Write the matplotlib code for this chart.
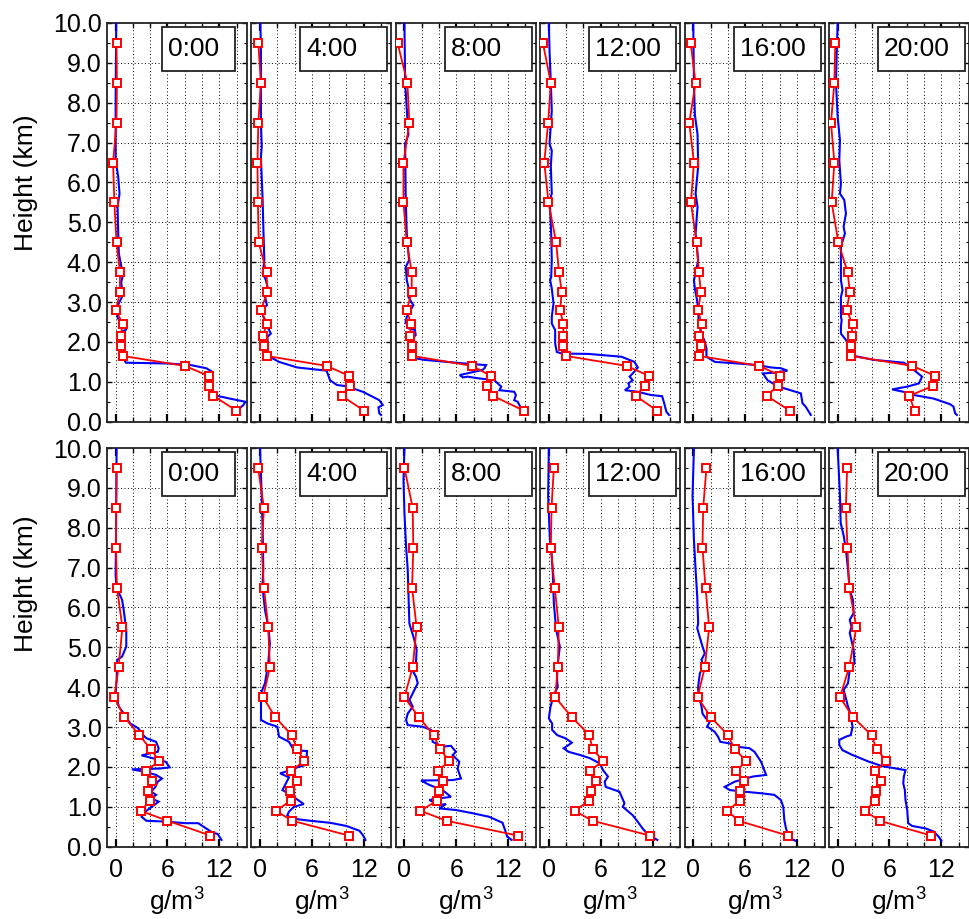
import matplotlib
matplotlib.use("Agg")
import matplotlib.pyplot as plt
from matplotlib.patches import Rectangle
from matplotlib.ticker import MultipleLocator, FormatStrFormatter

plt.rcParams['font.family'] = ['Liberation Sans', 'DejaVu Sans']
plt.rcParams['mathtext.default'] = 'regular'

# ---------------- data ----------------
times = ["0:00", "4:00", "8:00", "12:00", "16:00", "20:00"]
red_heights = [9.5, 8.5, 7.5, 6.5, 5.5, 4.5, 3.75, 3.25, 2.8, 2.45, 2.15, 1.9, 1.65, 1.4, 1.15, 0.9, 0.65, 0.28]

top_red = [
    [0.1, 0.15, 0.1, -0.3, -0.15, 0.1, 0.5, 0.5, 0.05, 0.8, 0.6, 0.6, 0.8, 8.0, 10.75, 10.85, 11.3, 13.95],
    [-0.2, 0.1, -0.2, -0.3, -0.25, -0.15, 0.75, 0.85, 0.1, 0.75, 0.35, 0.5, 0.75, 7.7, 10.3, 10.4, 9.45, 12.0],
    [-0.8, 0.34, 0.57, -0.11, -0.11, 0.27, 0.84, 0.84, 0.27, 0.76, 0.65, 0.84, 0.92, 7.84, 10.0, 9.6, 10.2, 13.8],
    [-0.69, 0.23, -0.08, -0.53, -0.04, 0.84, 1.18, 1.49, 1.3, 1.68, 1.68, 1.68, 1.95, 9.0, 11.56, 11.07, 10.04, 12.5],
    [-0.3, 0.27, -0.46, 0.08, -0.27, 0.38, 0.65, 0.88, 0.57, 0.96, 0.69, 0.84, 0.65, 7.66, 10.08, 9.77, 8.5, 11.15],
    [-0.27, -0.38, -0.77, -0.38, -0.69, 0.08, 1.15, 1.42, 1.03, 1.72, 1.61, 1.53, 1.53, 8.66, 11.26, 11.07, 8.3, 8.9],
]
bottom_red = [
    [0.11, 0.04, 0.04, 0.15, 0.78, 0.34, -0.15, 1.0, 2.73, 4.04, 5.06, 3.48, 4.23, 3.78, 4.0, 2.88, 6.0, 10.97],
    [-0.23, 0.45, 0.19, 0.45, 0.95, 1.14, 0.36, 1.75, 3.65, 4.3, 5.13, 3.54, 4.3, 3.46, 3.54, 1.83, 3.73, 10.27],
    [0.0, 0.95, 1.03, 0.88, 1.41, 0.95, 0.0, 1.65, 3.38, 4.1, 5.2, 3.85, 4.5, 3.96, 3.73, 1.85, 4.88, 13.1],
    [0.58, 0.31, 0.23, 0.69, 1.15, 1.04, 0.73, 2.66, 4.68, 5.06, 6.27, 4.75, 5.44, 4.87, 4.64, 2.97, 5.06, 11.67],
    [1.53, 1.15, 1.07, 1.42, 1.84, 1.34, 0.5, 2.03, 4.02, 4.79, 6.13, 4.98, 5.82, 5.36, 5.36, 3.95, 5.25, 10.92],
    [1.1, 0.95, 1.14, 1.33, 2.17, 1.33, 0.27, 1.77, 3.92, 4.5, 5.65, 4.38, 5.07, 4.46, 4.38, 3.12, 4.88, 10.8],
]

# blue profiles: (height km, value g/m3)
top_blue_0000 = [(10, 0.07), (8.06, 0.0), (6.56, 0.0), (6.14, 0.3), (5.72, 0.45), (5.39, 0.22), (4.72, 0.3),
                 (4.22, 0.37), (3.88, 0.67), (3.72, 0.9), (3.5, 0.64), (3.3, 0.75), (3.17, 0.82), (2.92, 0.26),
                 (2.8, 0.07), (2.59, 0.26), (2.42, 1.0), (2.31, 1.2), (2.26, 0.75), (2.09, 0.52), (1.88, 0.75),
                 (1.67, 0.82), (1.55, 1.0), (1.48, 1.2), (1.46, 6.06), (1.42, 8.7), (1.34, 10.5), (1.25, 11.2),
                 (1.13, 10.9), (0.88, 11.1), (0.67, 11.3), (0.58, 13.2), (0.5, 15.0), (0.42, 14.8), (0.33, 14.3),
                 (0.17, 14.3)]
top_blue_0400 = [(10, 0.04), (9.3, 0.1), (7.5, 0.1), (6.9, 0.2), (6.64, 0.1), (5.56, 0.3), (4.72, 0.4), (4.05, 0.5),
                 (3.72, 0.3), (3.55, 0.68), (3.3, 0.95), (3.22, 0.49), (2.92, 0.8), (2.84, 0.3), (2.63, 0.38),
                 (2.46, 0.87), (2.34, 0.95), (2.21, 1.25), (2.13, 0.87), (1.67, 0.87), (1.59, 1.44), (1.5, 2.2),
                 (1.36, 4.3), (1.28, 7.7), (1.04, 8.1), (0.92, 8.9), (0.89, 10.0), (0.75, 11.9), (0.54, 13.8),
                 (0.42, 14.2), (0.36, 13.7), (0.21, 13.8), (0.17, 14.0)]
top_blue_0800 = [(10, 0.0), (8.5, 0.08), (7.2, 0.46), (6.97, 0.08), (5.56, 0.15), (4.72, 0.27), (4.05, 0.53),
                 (3.88, 0.15), (3.55, 0.27), (3.3, 0.54), (3.13, 0.46), (2.92, 1.03), (2.63, 0.27), (2.5, 0.15),
                 (2.34, 0.46), (2.3, 1.22), (2.17, 1.3), (2.09, 0.92), (1.88, 0.84), (1.67, 0.92), (1.59, 1.22),
                 (1.55, 2.37), (1.46, 6.96), (1.42, 9.45), (1.34, 9.25), (1.3, 9.06), (1.17, 6.4), (1.11, 6.77),
                 (1.13, 7.3), (1.09, 8.5), (1.04, 10.4), (0.88, 11.2), (0.79, 11.0), (0.75, 12.7), (0.67, 12.9),
                 (0.54, 12.7), (0.5, 13.1), (0.21, 13.8)]
top_blue_1200 = [(10, 0.0), (9.3, 0.08), (8.5, 0.23), (7.8, 0.34), (6.97, 0.08), (6.8, 0.34), (6.4, 0.23),
                 (5.72, 0.34), (5.56, 0.1), (4.72, 0.27), (4.05, 0.34), (3.63, 0.27), (3.55, 0.15), (3.34, 0.34),
                 (2.97, 0.54), (2.63, 0.34), (2.46, 0.34), (2.3, 0.73), (1.96, 0.73), (1.75, 0.92), (1.71, 1.49),
                 (1.7, 4.56), (1.63, 8.4), (1.5, 9.9), (1.36, 10.3), (1.21, 9.7), (1.13, 9.35), (1.04, 9.7),
                 (0.96, 9.2), (0.88, 9.35), (0.79, 8.8), (0.75, 10.3), (0.67, 11.8), (0.64, 13.1), (0.5, 13.3),
                 (0.25, 13.6), (0.17, 13.9)]
top_blue_1600 = [(10, 0.0), (8.5, 0.08), (7.7, 0.19), (7.2, 0.5), (6.4, 0.57), (5.72, 0.27), (5.39, 0.5),
                 (4.72, 0.27), (4.05, 0.57), (3.72, 0.27), (3.55, 0.08), (3.34, 0.19), (2.97, 0.5), (2.72, 0.57),
                 (2.46, 0.65), (2.21, 0.96), (2.0, 1.34), (1.84, 1.53), (1.63, 1.53), (1.5, 2.5), (1.46, 5.13),
                 (1.42, 7.47), (1.36, 9.0), (1.34, 10.15), (1.28, 10.9), (1.23, 9.4), (1.21, 8.05), (1.04, 8.6),
                 (0.89, 9.77), (0.84, 10.5), (0.71, 12.45), (0.46, 12.65), (0.38, 13.0), (0.17, 13.6)]
top_blue_2000 = [(10, 0.0), (9.3, -0.1), (8.5, -0.19), (7.65, 0.0), (7.06, 0.27), (6.56, 0.19), (5.97, 0.38),
                 (5.72, 0.27), (5.56, 0.77), (5.22, 0.96), (4.89, 0.69), (4.72, 0.84), (4.39, 0.38), (3.88, 0.38),
                 (3.55, 0.38), (3.3, 0.57), (3.13, 0.38), (2.63, 0.38), (2.55, 0.46), (2.38, 0.38), (2.21, 0.38),
                 (2.05, 0.96), (1.96, 1.15), (1.8, 1.53), (1.65, 1.92), (1.55, 4.2), (1.48, 7.66), (1.42, 8.05),
                 (1.3, 8.8), (1.13, 9.77), (0.96, 9.4), (0.88, 8.05), (0.81, 6.3), (0.73, 8.05), (0.67, 8.8),
                 (0.58, 11.1), (0.44, 13.0), (0.38, 13.4), (0.21, 13.6), (0.17, 13.8)]

bottom_blue_0000 = [(10, 0.11), (8.8, 0.08), (6.8, 0.0), (6.5, 0.11), (6.19, 0.75), (5.94, 0.93), (5.44, 1.23),
                    (5.02, 1.23), (4.77, 0.75), (4.69, 0.19), (4.18, 0.11), (3.85, 0.0), (3.51, 0.37), (3.34, 0.94),
                    (3.09, 1.69), (2.97, 2.62), (2.8, 3.18), (2.72, 3.56), (2.63, 4.68), (2.47, 4.98), (2.38, 4.87),
                    (2.36, 4.3), (2.29, 3.0), (2.24, 3.93), (2.13, 5.8), (1.99, 6.25), (1.96, 5.06), (1.94, 1.87),
                    (1.88, 3.37), (1.8, 4.68), (1.71, 5.36), (1.63, 4.87), (1.5, 4.6), (1.38, 4.12), (1.3, 4.68),
                    (1.21, 4.12), (1.13, 4.98), (0.96, 3.93), (0.84, 3.18), (0.75, 3.0), (0.65, 3.56), (0.63, 5.8),
                    (0.59, 8.05), (0.59, 9.55), (0.43, 10.67), (0.35, 11.24), (0.32, 11.8), (0.17, 12.25)]
bottom_blue_0400 = [(10, 0.0), (8.8, 0.19), (7.95, 0.3), (6.95, 0.38), (6.53, 0.27), (5.94, 0.57), (5.52, 0.95),
                    (5.1, 1.14), (4.6, 0.95), (4.1, 0.57), (3.85, 0.11), (3.34, 0.11), (3.18, 0.11), (3.09, 0.87),
                    (3.01, 2.0), (2.76, 2.2), (2.63, 3.35), (2.42, 3.92), (2.4, 5.44), (2.17, 5.36), (2.05, 5.25),
                    (1.99, 4.3), (1.92, 3.54), (1.84, 2.32), (1.74, 3.35), (1.5, 2.78), (1.42, 2.6), (1.3, 3.54),
                    (1.07, 5.06), (1.0, 3.92), (0.88, 3.35), (0.79, 3.16), (0.71, 3.54), (0.65, 5.82), (0.6, 8.1),
                    (0.52, 10.0), (0.4, 11.5), (0.29, 11.9), (0.17, 12.2)]
bottom_blue_0800 = [(10, 0.0), (9.2, -0.11), (8.37, 0.0), (7.53, 0.19), (6.95, 0.38), (6.1, 0.5), (5.6, 0.57),
                    (5.19, 1.14), (4.94, 1.41), (4.6, 1.33), (4.44, 0.88), (4.27, 1.33), (4.1, 1.54), (3.93, 1.15),
                    (3.68, 0.58), (3.51, 0.96), (3.34, 0.38), (3.18, 0.19), (3.05, 0.38), (3.01, 2.1), (2.93, 3.08),
                    (2.63, 3.27), (2.51, 4.42), (2.53, 5.38), (2.38, 5.96), (2.3, 5.58), (2.13, 6.35), (1.96, 6.15),
                    (1.71, 6.54), (1.67, 5.58), (1.66, 1.92), (1.55, 2.88), (1.42, 4.42), (1.25, 5.38), (1.19, 3.27),
                    (1.17, 2.88), (1.05, 4.04), (1.07, 4.8), (0.96, 4.04), (0.92, 5.96), (0.84, 7.88), (0.75, 9.8),
                    (0.6, 11.35), (0.38, 11.7), (0.25, 11.9), (0.17, 12.4)]
bottom_blue_1200 = [(10, 0.0), (8.8, -0.08), (7.7, 0.12), (7.36, 0.31), (6.86, 0.46), (6.1, 0.58), (5.44, 0.85),
                    (5.02, 1.27), (4.44, 0.96), (4.18, 0.95), (4.01, 1.03), (3.8, 0.57), (3.51, 0.19), (3.22, 0.0),
                    (3.09, 0.38), (2.93, 0.38), (2.8, 0.95), (2.72, 1.9), (2.61, 2.66), (2.55, 2.28), (2.47, 1.71),
                    (2.38, 2.28), (2.3, 3.61), (2.22, 4.75), (2.09, 5.89), (1.92, 6.27), (1.76, 6.84), (1.63, 6.46),
                    (1.5, 6.58), (1.38, 8.17), (1.09, 8.75), (1.0, 8.56), (0.79, 9.7), (0.63, 10.27), (0.46, 10.84),
                    (0.32, 11.4), (0.17, 12.55)]
bottom_blue_1600 = [(10, 0.08), (8.8, -0.08), (7.7, 0.08), (6.95, 0.27), (6.28, 0.46), (5.6, 0.57), (5.48, 0.46),
                    (5.02, 1.07), (4.85, 1.34), (4.69, 0.96), (4.52, 1.15), (4.35, 0.77), (4.02, 0.57), (3.93, 0.57),
                    (3.68, 0.77), (3.51, 0.96), (3.34, 1.07), (3.22, 1.46), (3.14, 1.92), (3.01, 1.61), (2.97, 1.92),
                    (2.88, 2.49), (2.76, 2.87), (2.63, 3.14), (2.59, 4.21), (2.51, 4.98), (2.47, 6.51), (2.38, 7.09),
                    (2.13, 7.85), (1.8, 8.43), (1.76, 6.9), (1.63, 4.79), (1.5, 3.64), (1.42, 4.21), (1.38, 5.94),
                    (1.34, 7.85), (1.3, 9.39), (1.17, 10.15), (1.0, 10.42), (0.67, 10.54), (0.46, 10.73),
                    (0.23, 11.1), (0.15, 11.8)]
bottom_blue_2000 = [(10, 0.0), (8.8, 0.27), (8.12, 0.35), (7.78, 0.72), (7.36, 1.0), (6.95, 1.2), (6.44, 1.4),
                    (6.19, 1.77), (5.86, 1.85), (5.69, 1.4), (5.52, 1.6), (5.36, 1.4), (4.94, 1.85), (4.6, 1.95),
                    (4.44, 1.4), (4.1, 1.2), (3.93, 0.69), (3.72, 0.96), (3.55, 1.15), (3.43, 1.34), (3.26, 1.53),
                    (3.01, 1.72), (2.8, 1.53), (2.76, 0.96), (2.68, 0.19), (2.55, 0.19), (2.42, 0.57), (2.3, 1.72),
                    (2.13, 3.64), (2.02, 5.17), (1.92, 7.85), (1.76, 7.66), (1.59, 7.59), (1.42, 7.78), (1.17, 7.85),
                    (0.92, 8.05), (0.59, 8.16), (0.52, 8.62), (0.46, 10.15), (0.38, 11.1), (0.25, 11.7), (0.15, 12.0)]

top_blue = [top_blue_0000, top_blue_0400, top_blue_0800, top_blue_1200, top_blue_1600, top_blue_2000]
bottom_blue = [bottom_blue_0000, bottom_blue_0400, bottom_blue_0800, bottom_blue_1200, bottom_blue_1600, bottom_blue_2000]

y_ticks = [0, 1, 2, 3, 4, 5, 6, 7, 8, 9, 10]
x_ticks = [0, 6, 12]

# ---------------- layout ----------------
W, H = 970, 919
fig = plt.figure(figsize=(W / 100, H / 100), dpi=100)

pw, ph = 140.0, 398.7
lefts = [107 + i * 144.4 for i in range(6)]
row_bottoms = [421.7, 846.7]  # pixel y of bottom edge (from top)
box_w = [73, 87, 87, 87, 87, 87]
box_rpad = [12, 4, 4, 4, 4, 4]
ylabel_y = [0.60, 0.66]

rows = [(top_red, top_blue), (bottom_red, bottom_blue)]

for r, (reds, blues) in enumerate(rows):
    for c in range(6):
        ax = fig.add_axes([lefts[c] / W, (H - row_bottoms[r]) / H, pw / W, ph / H])
        bh = [p[0] for p in blues[c]]
        bv = [p[1] for p in blues[c]]
        ax.plot(bv, bh, color='#0000ff', lw=1.5, zorder=3, solid_joinstyle='miter')
        ax.plot(reds[c], red_heights, color='#ff0000', lw=1.3, marker='s', ms=5.5,
                mfc='white', mec='#ff0000', mew=1.4, zorder=4)
        ax.set_xlim(-1, 15.2)
        ax.set_ylim(0, 10)
        ax.xaxis.set_major_locator(MultipleLocator(6))
        ax.xaxis.set_minor_locator(MultipleLocator(2))
        ax.yaxis.set_major_locator(MultipleLocator(1))
        ax.yaxis.set_minor_locator(MultipleLocator(0.5))
        ax.yaxis.set_major_formatter(FormatStrFormatter('%.1f'))
        ax.tick_params(which='both', direction='in', top=True, right=True, labelsize=18)
        ax.tick_params(axis='x', which='major', length=6, width=1.6, pad=8)
        ax.tick_params(axis='x', which='minor', length=3.5, width=1.0)
        ax.tick_params(axis='y', which='major', length=3.5, width=1.0, pad=4)
        ax.tick_params(axis='y', which='minor', length=2.5, width=0.8)
        # dotted grid
        for gx in [0, 2, 4, 6, 8, 10, 12, 14]:
            ax.axvline(gx, color='k', lw=0.7, ls=(0, (1, 2.5)), zorder=1)
        for gy in y_ticks[1:-1]:
            ax.axhline(gy, color='k', lw=0.7, ls=(0, (1, 2.5)), zorder=1)
        for s in ax.spines.values():
            s.set_linewidth(1.3)
            s.set_color('#222222')
        if c > 0:
            ax.set_yticklabels([])
        else:
            ax.set_ylabel('Height (km)', fontsize=19)
            ax.yaxis.set_label_coords(-0.49, ylabel_y[r])
        if r == 0:
            ax.set_xticklabels([])
        else:
            ax.set_xticks(x_ticks)
            ax.set_xlabel('g/m$^3$', fontsize=19, labelpad=3)
        # time label box
        bw = box_w[c] / pw
        bhh = 44 / ph
        bx = 1 - (box_rpad[c] + box_w[c]) / pw
        by = 1 - (3.5 + 44) / ph
        ax.add_patch(Rectangle((bx, by), bw, bhh, transform=ax.transAxes, facecolor='white',
                               edgecolor='#222222', lw=1.3, zorder=6))
        ax.text(bx + 6 / pw, by + bhh / 2, times[c], transform=ax.transAxes, fontsize=19,
                ha='left', va='center', zorder=7)

fig.savefig('out.png', dpi=100)
